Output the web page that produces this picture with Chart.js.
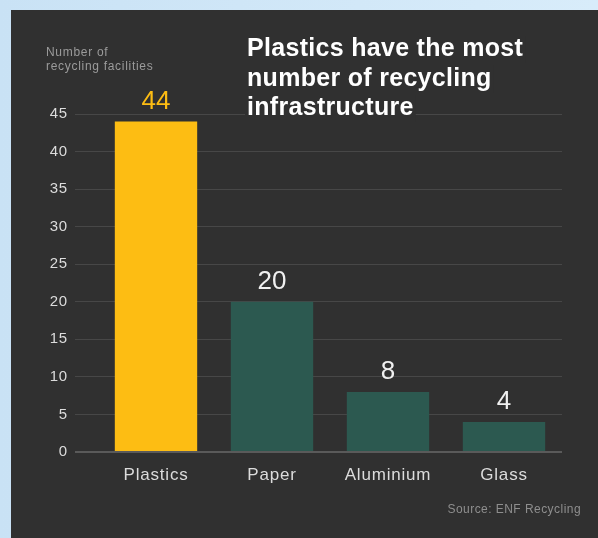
<!DOCTYPE html>
<html>
<head>
<meta charset="utf-8">
<script src="https://cdn.jsdelivr.net/npm/chart.js@4/dist/chart.umd.min.js"></script>
<style>
  html, body { margin: 0; padding: 0; }
  body { width: 598px; height: 538px; background: linear-gradient(90deg, #c9e2f5, #d8ecfa); position: relative; overflow: hidden; }
  #panel { position: absolute; left: 11px; top: 10px; width: 587px; height: 528px; background: #303030; }
</style>
</head>
<body>
<div id="panel"><canvas id="myChart" width="587" height="528"></canvas></div>
<script>
const materials = ['Plastics', 'Paper', 'Aluminium', 'Glass'];
const facilities = [44, 20, 8, 4];
const yTicks = [0, 5, 10, 15, 20, 25, 30, 35, 40, 45];
const titleLines = ['Plastics have the most', 'number of recycling', 'infrastructure'];
const axisTitle = ['Number of', 'recycling facilities'];
const sourceText = 'Source: ENF Recycling';

const FONT = '"Liberation Sans", Arial, sans-serif';

// the reference type is a bit wider, so space the letters out
const spacing = {
    id: 'spacing',
    beforeDraw(chart) {
        chart.ctx.letterSpacing = '0.8px';
    },
    afterDatasetsDraw(chart) {
        chart.ctx.letterSpacing = '0px';
    }
};

// value labels above bars + the texts around the chart
const extras = {
    id: 'extras',
    afterDraw(chart) {
        const c = chart.ctx;
        const meta = chart.getDatasetMeta(0);
        c.save();
        c.letterSpacing = '0px';
        c.textAlign = 'center';
        c.textBaseline = 'alphabetic';
        c.font = '26px ' + FONT;
        meta.data.forEach((bar, i) => {
            c.fillStyle = i === 0 ? '#fdbd13' : '#f0f0f0';
            c.fillText(facilities[i], bar.x, bar.y - 13);
        });

        // axis title
        c.textAlign = 'left';
        c.letterSpacing = '0.7px';
        c.font = '12px ' + FONT;
        c.fillStyle = '#9b9b9b';
        c.fillText(axisTitle[0], 35, 46);
        c.fillText(axisTitle[1], 35, 60);

        // headline, with a box that hides the gridline behind it
        c.letterSpacing = '0.3px';
        c.font = 'bold 25px ' + FONT;
        titleLines.forEach((t, i) => {
            const y = 46 + i * 29.5;
            const w = c.measureText(t).width;
            c.fillStyle = '#303030';
            c.fillRect(234, y - 20, w + 4, 27);
            c.fillStyle = '#ffffff';
            c.fillText(t, 236, y);
        });

        // source
        c.textAlign = 'right';
        c.letterSpacing = '0.45px';
        c.font = '12px ' + FONT;
        c.fillStyle = '#8e8e8e';
        c.fillText(sourceText, 570, 503);
        c.restore();
    }
};

const ctx = document.getElementById('myChart');

new Chart(ctx, {
    type: 'bar',
    data: {
        labels: materials,
        datasets: [{
            data: facilities,
            backgroundColor: ['#fdbd13', '#2c5950', '#2c5950', '#2c5950'],
            borderWidth: 0,
            barPercentage: 0.71,
            categoryPercentage: 1
        }]
    },
    options: {
        responsive: false,
        animation: false,
        layout: {
            padding: { top: 104, right: 36, bottom: 46, left: 0 }
        },
        plugins: {
            legend: { display: false },
            tooltip: { enabled: false }
        },
        scales: {
            x: {
                grid: { display: false, drawTicks: false },
                border: { display: false },
                ticks: {
                    color: '#dcdcdc',
                    font: { family: FONT, size: 17 },
                    padding: 13
                },
                afterFit(scale) { scale.height = 40; }
            },
            y: {
                min: 0,
                max: 45,
                afterBuildTicks(scale) {
                    scale.ticks = yTicks.map(v => ({ value: v }));
                },
                grid: {
                    color: c => c.tick && c.tick.value === 0 ? '#5a5a5a' : '#474747',
                    lineWidth: c => c.tick && c.tick.value === 0 ? 2 : 1,
                    tickLength: 23
                },
                border: { display: false },
                ticks: {
                    color: '#dcdcdc',
                    font: { family: FONT, size: 15 },
                    padding: 7
                },
                afterFit(scale) { scale.width = 87; }
            }
        }
    },
    plugins: [spacing, extras]
});
</script>
</body>
</html>
